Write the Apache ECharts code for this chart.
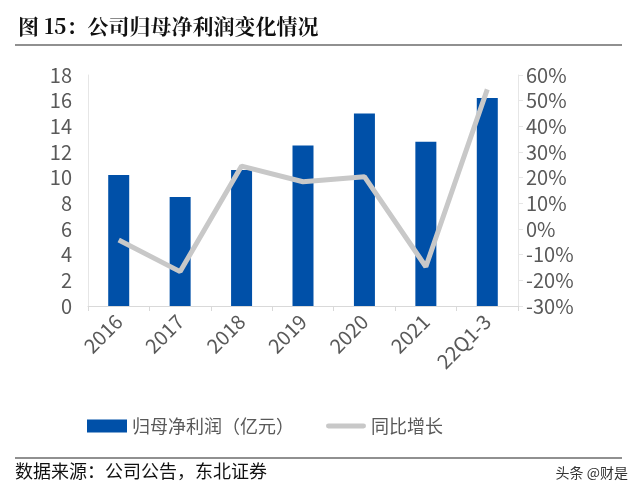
<!DOCTYPE html>
<html><head><meta charset="utf-8">
<script src="https://cdn.jsdelivr.net/npm/echarts@6/dist/echarts.min.js"></script>
<style>html,body{margin:0;padding:0;background:#fff}#c{width:640px;height:498px}</style>
</head><body><div id="c"></div>
<script>
const categories = ['2016','2017','2018','2019','2020','2021','22Q1-3'];
const profit = [10.2, 8.5, 10.6, 12.5, 15.0, 12.8, 16.2];
const growth = [-4.3, -16.6, 24.5, 18.4, 20.4, -14.7, 54.4];
const leftTicks = {min:0, max:18, interval:2};
const rightTicks = {min:-30, max:60, interval:10};

const chart = echarts.init(document.getElementById('c'));
const font = '"Noto Sans CJK SC", sans-serif';
chart.setOption({
  animation:false,
  textStyle:{fontFamily:font},
  graphic:[
    {type:'text', left:18, top:16, style:{text:'图 15：公司归母净利润变化情况', font:'bold 21px "Noto Serif CJK SC","Noto Sans CJK SC", serif', fill:'#111'}},
    {type:'line', shape:{x1:15,y1:45,x2:622,y2:45}, style:{stroke:'#222', lineWidth:1.2}},
    {type:'line', shape:{x1:15,y1:458,x2:622,y2:458}, style:{stroke:'#222', lineWidth:1.2}},
    {type:'text', left:15, top:462, style:{text:'数据来源：公司公告，东北证券', font:'18px "Noto Sans CJK SC", sans-serif', fill:'#111'}},
    {type:'text', right:12, top:466, style:{text:'头条 @财是', font:'14px "Noto Sans CJK SC", sans-serif', fill:'#333'}}
  ],
  legend:{
    top:412, left:82, itemGap:32, itemWidth:40, itemHeight:13,
    textStyle:{fontSize:18, color:'#595959', fontFamily:font},
    data:[
      {name:'归母净利润（亿元）', icon:'rect'},
      {name:'同比增长', icon:'path://M2,0 L38,0 A2.5,2.5 0 0 1 38,5 L2,5 A2.5,2.5 0 0 1 2,0 Z', itemStyle:{color:'#c8c8c8'}}
    ]
  },
  grid:{left:88, right:122, top:75, bottom:192},
  xAxis:{
    type:'category', data:categories,
    axisLine:{lineStyle:{color:'#d9d9d9'}},
    axisTick:{show:true, lineStyle:{color:'#d9d9d9'}},
    axisLabel:{rotate:45, fontSize:20, color:'#595959', margin:12, fontFamily:font}
  },
  yAxis:[
    {type:'value', min:leftTicks.min, max:leftTicks.max, interval:leftTicks.interval,
     axisLine:{show:true, lineStyle:{color:'#e6e6e6'}}, axisTick:{show:false}, splitLine:{show:false},
     axisLabel:{fontSize:20, color:'#595959', margin:16, fontFamily:font}},
    {type:'value', min:rightTicks.min, max:rightTicks.max, interval:rightTicks.interval,
     axisLine:{show:true, lineStyle:{color:'#e6e6e6'}}, axisTick:{show:true, lineStyle:{color:'#e6e6e6'}}, splitLine:{show:false},
     axisLabel:{fontSize:20, color:'#595959', margin:8, formatter:'{value}%', fontFamily:font}}
  ],
  series:[
    {name:'归母净利润（亿元）', type:'bar', data:profit, barWidth:21, itemStyle:{color:'#0050A8'}},
    {name:'同比增长', type:'line', yAxisIndex:1, data:growth, symbol:'none', lineStyle:{color:'#c8c8c8', width:5}, itemStyle:{color:'#c8c8c8'}}
  ]
});
</script></body></html>
